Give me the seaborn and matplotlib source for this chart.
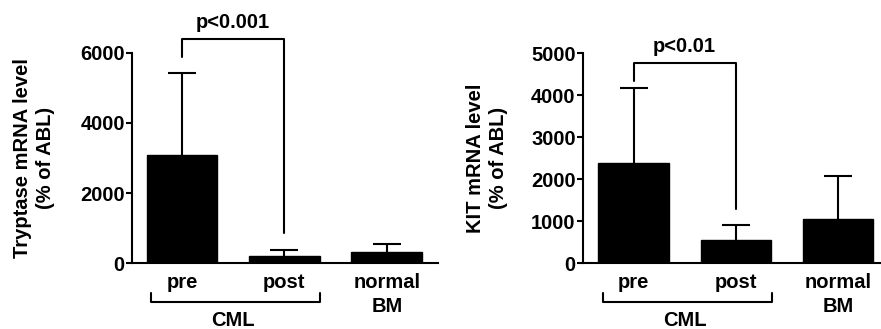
import matplotlib
matplotlib.use("Agg")
import matplotlib.pyplot as plt
import matplotlib.transforms as mtransforms
import pandas as pd
import seaborn as sns

# data
groups = ["pre", "post", "normal\nBM"]
tryptase_mean = [3100, 220, 330]
tryptase_err = [2330, 170, 220]
kit_mean = [2400, 550, 1060]
kit_err = [1780, 370, 1010]

# significance brackets: (top, left leg end, right leg end, label)
tryptase_sig = (6390, 5870, 850, "p<0.001")
kit_sig = (4760, 4340, 1290, "p<0.01")

sns.set_style("ticks")
plt.rcParams["font.family"] = ["Liberation Sans", "DejaVu Sans"]
plt.rcParams["font.weight"] = "bold"
plt.rcParams["axes.labelweight"] = "bold"
for key in ["text.color", "axes.labelcolor", "xtick.color", "ytick.color", "axes.edgecolor"]:
    plt.rcParams[key] = "black"

FS = 14.5


def draw_panel(ax, means, errs, ylim, yticks, ylabel, sig):
    df = pd.DataFrame({"group": groups, "value": means})
    sns.barplot(data=df, x="group", y="value", color="black", edgecolor="black",
                width=0.69, saturation=1, ax=ax)
    # one sided error bars (upwards only)
    eb = ax.errorbar(range(len(means)), means, yerr=[[0] * len(errs), errs], fmt="none",
                     ecolor="black", elinewidth=1.5, capsize=9.8, capthick=1.5, zorder=3)
    eb[1][0].set_visible(False)  # no cap at the bar top

    ax.set_ylim(*ylim)
    ax.set_yticks(yticks)
    ax.set_xlabel("")
    ax.set_ylabel(ylabel, fontsize=FS, linespacing=1.3)
    ax.yaxis.set_label_coords(-0.25, 0.5)
    ax.tick_params(axis="y", length=4, width=1.5, pad=1, labelsize=FS)
    ax.tick_params(axis="x", length=0, pad=7, labelsize=FS)
    for lab in ax.get_xticklabels():
        lab.set_fontweight("bold")
        lab.set_linespacing(1.3)
    for lab in ax.get_yticklabels():
        lab.set_fontweight("bold")
    sns.despine(ax=ax)
    ax.spines["left"].set_linewidth(1.5)
    ax.spines["bottom"].set_linewidth(1.5)

    # significance bracket between pre and post
    top, left_end, right_end, text = sig
    ax.plot([0, 0, 1, 1], [left_end, top, top, right_end], color="black", lw=1.5,
            clip_on=False)
    span = ylim[1] - ylim[0]
    ax.text(0.5, top + span * 0.035, text, ha="center", va="bottom", fontsize=FS,
            fontweight="bold", clip_on=False)

    # CML group bracket under the x labels
    trans = mtransforms.blended_transform_factory(ax.transData, ax.transAxes)
    ax.plot([-0.3, -0.3, 1.35, 1.35], [-0.141, -0.184, -0.184, -0.141], color="black",
            lw=1.5, transform=trans, clip_on=False)
    ax.text(0.5, -0.228, "CML", ha="center", va="top", fontsize=FS, fontweight="bold",
            transform=trans, clip_on=False)


fig = plt.figure(figsize=(8.81, 3.29), dpi=100)
ax1 = fig.add_axes([0.1495, 0.1997, 0.3477, 0.640])
ax2 = fig.add_axes([0.6614, 0.1997, 0.3386, 0.638])

draw_panel(ax1, tryptase_mean, tryptase_err, (0, 6000), [0, 2000, 4000, 6000],
           "Tryptase mRNA level\n(% of ABL)", tryptase_sig)
ax1.set_xlim(-0.49, 2.5)
draw_panel(ax2, kit_mean, kit_err, (0, 5000), [0, 1000, 2000, 3000, 4000, 5000],
           "KIT mRNA level\n(% of ABL)", kit_sig)
ax2.set_xlim(-0.497, 2.42)

fig.savefig("out.png", dpi=100)
